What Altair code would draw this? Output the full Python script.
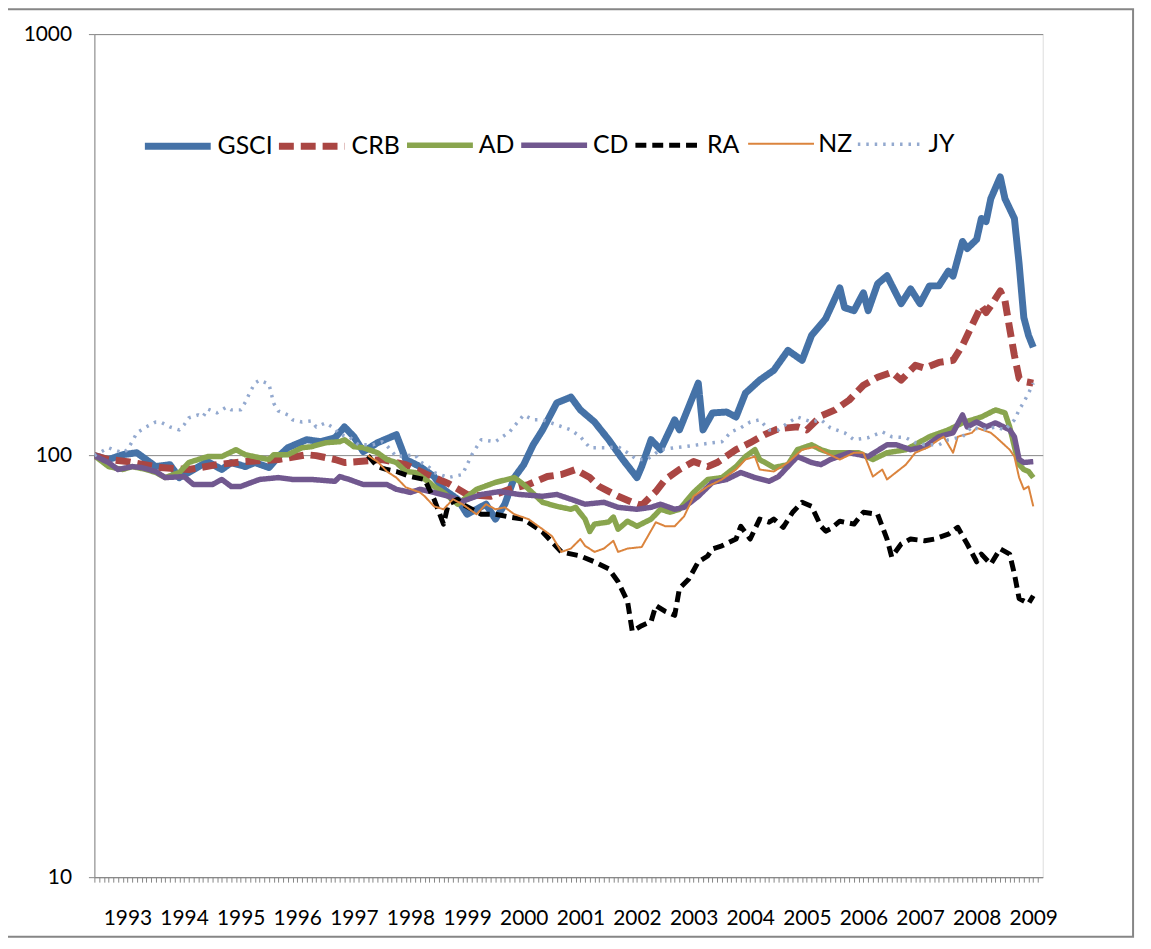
import altair as alt
import pandas as pd

# ---------------- data (index levels, log scale) ----------------
series_names = ["GSCI", "CRB", "AD", "CD", "RA", "NZ", "JY"]
series_colors = ["#4572A7", "#AA4643", "#89A54E", "#71588F", "#000000", "#DB843D", "#93A9CF"]
series_widths = [7, 7, 5.5, 5.5, 5, 2, 3.5]
series_dashes = [[1, 0], [15, 7], [1, 0], [1, 0], [11, 6], [1, 0], [2.5, 6]]
legend_x = [47, 182, 312, 427, 542, 657, 767]

year_labels = list(range(1993, 2010))
y_ticks = [10, 100, 1000]

gsci_dates = ["1992-06", "1992-09", "1992-12", "1993-03", "1993-07", "1993-10", "1993-12", "1994-02",
              "1994-06", "1994-09", "1994-11", "1995-02", "1995-04", "1995-07", "1995-09", "1995-11",
              "1996-03", "1996-06", "1996-09", "1996-11", "1997-01", "1997-03", "1997-06", "1997-10",
              "1997-12", "1998-03", "1998-06", "1998-08", "1998-11", "1999-01", "1999-05", "1999-07",
              "1999-09", "1999-11", "2000-01", "2000-03", "2000-05", "2000-08", "2000-11", "2001-01",
              "2001-04", "2001-07", "2001-10", "2002-01", "2002-02", "2002-04", "2002-06", "2002-09",
              "2002-10", "2003-02", "2003-03", "2003-05", "2003-08", "2003-10", "2003-12", "2004-03",
              "2004-06", "2004-09", "2004-12", "2005-02", "2005-05", "2005-08", "2005-09", "2005-11",
              "2006-01", "2006-02", "2006-04", "2006-06", "2006-09", "2006-11", "2007-01", "2007-03",
              "2007-05", "2007-07", "2007-08", "2007-10", "2007-11", "2008-01", "2008-02", "2008-03",
              "2008-04", "2008-06", "2008-07", "2008-09", "2008-10", "2008-11", "2008-12", "2009-01"]
gsci_vals = [100, 97.9, 100.5, 101.6, 94.2, 95.2, 88.7, 91.2,
             96.8, 92.7, 96.3, 94.2, 96.3, 93.7, 99.5, 104.4,
             109.1, 107.9, 110.3, 117.0, 110.9, 102.2, 107.3, 112.1,
             97.9, 94.2, 89.2, 83.2, 78.8, 72.6, 76.7, 70.7,
             76.7, 88.7, 95.2, 106.1, 115.1, 133.4, 137.7, 128.4,
             120.2, 109.1, 97.9, 88.7, 94.2, 109.1, 103.3, 121.6,
             115.1, 148.6, 115.1, 126.3, 126.9, 123.5, 140.7, 151.0,
             159.4, 177.7, 168.3, 192.8, 211.3, 250.1, 224.4, 220.8,
             243.4, 220.8, 255.6, 267.1, 229.3, 248.7, 229.3, 252.8,
             252.8, 274.0, 266.6, 322.2, 310.0, 325.8, 365.3, 359.2,
             407.0, 458.5, 407.0, 365.3, 285.0, 212.5, 192.8, 180.7]

crb_dates = ["1992-06", "1992-09", "1993-01", "1993-08", "1994-02", "1994-08", "1995-02", "1995-09",
             "1996-03", "1996-05", "1996-09", "1996-11", "1997-02", "1997-07", "1997-12", "1998-05",
             "1998-09", "1999-01", "1999-06", "1999-10", "2000-02", "2000-06", "2000-09", "2000-12",
             "2001-03", "2001-05", "2001-09", "2001-12", "2002-02", "2002-05", "2002-07", "2002-10",
             "2003-01", "2003-04", "2003-06", "2003-10", "2004-01", "2004-04", "2004-07", "2004-11",
             "2005-01", "2005-04", "2005-07", "2005-10", "2006-01", "2006-04", "2006-07", "2006-09",
             "2006-12", "2007-02", "2007-05", "2007-08", "2007-10", "2007-12", "2008-02", "2008-03",
             "2008-04", "2008-06", "2008-07", "2008-08", "2008-09", "2008-10", "2008-11", "2008-12",
             "2009-01"]
crb_vals = [100, 97.9, 96.8, 93.7, 92.7, 95.2, 96.8, 97.9,
            100.5, 100, 97.9, 96.3, 96.8, 97.9, 95.2, 89.7,
            85.9, 80.9, 80.1, 83.2, 85.4, 89.2, 90.2, 92.7,
            88.7, 84.5, 80.1, 77.5, 76.2, 82.2, 87.8, 92.7,
            96.8, 94.2, 96.3, 103.3, 107.3, 112.1, 115.8, 117.0,
            115.1, 124.2, 128.4, 135.5, 146.9, 153.4, 157.7, 151.0,
            163.8, 161.2, 166.4, 168.3, 182.6, 203.6, 226.6, 218.4,
            226.6, 245.8, 233.1, 200.2, 172.9, 152.6, 150.0, 149.3,
            148.6]

ad_dates = ["1992-06", "1992-09", "1992-12", "1993-02", "1993-05", "1993-07", "1993-09", "1993-12",
            "1994-02", "1994-04", "1994-06", "1994-09", "1994-12", "1995-02", "1995-05", "1995-07",
            "1995-08", "1995-11", "1996-02", "1996-04", "1996-07", "1996-10", "1996-11", "1997-01",
            "1997-03", "1997-06", "1997-08", "1997-10", "1997-12", "1998-02", "1998-05", "1998-06",
            "1998-08", "1998-11", "1999-03", "1999-07", "1999-11", "2000-01", "2000-05", "2000-08",
            "2000-11", "2000-12", "2001-02", "2001-03", "2001-04", "2001-07", "2001-08", "2001-09",
            "2001-11", "2002-01", "2002-04", "2002-06", "2002-08", "2002-10", "2003-01", "2003-04",
            "2003-07", "2003-10", "2003-12", "2004-02", "2004-03", "2004-06", "2004-09", "2004-11",
            "2005-02", "2005-04", "2005-06", "2005-09", "2005-12", "2006-03", "2006-06", "2006-10",
            "2007-03", "2007-07", "2007-10", "2008-02", "2008-05", "2008-07", "2008-08", "2008-09",
            "2008-10", "2008-11", "2008-12", "2009-01"]
ad_vals = [100, 94.2, 92.7, 94.2, 92.7, 91.2, 88.7, 91.2,
           96.3, 97.9, 99.5, 99.5, 103.3, 100.5, 98.9, 97.9,
           100.5, 100.5, 104.4, 105.0, 107.3, 107.9, 109.1, 105.0,
           104.4, 101.6, 97.9, 96.3, 91.7, 91.2, 86.4, 84.5,
           81.8, 76.7, 83.2, 86.4, 88.7, 85.4, 77.5, 75.8,
           74.6, 75.4, 70.7, 66.1, 68.8, 69.6, 71.5, 66.9,
           69.9, 68.0, 70.7, 74.6, 73.4, 74.6, 81.8, 87.8,
           88.7, 94.2, 99.5, 103.3, 97.9, 93.7, 95.2, 103.3,
           106.1, 103.3, 101.6, 101.6, 101.6, 97.9, 101.6, 103.3,
           110.9, 115.1, 119.6, 123.5, 128.4, 126.3, 117.0, 105.0,
           95.2, 92.7, 91.7, 88.7]

cd_dates = ["1992-06", "1992-09", "1992-11", "1993-02", "1993-04", "1993-07", "1993-09", "1994-01",
            "1994-03", "1994-07", "1994-09", "1994-11", "1995-01", "1995-05", "1995-09", "1995-12",
            "1996-04", "1996-09", "1996-10", "1996-12", "1997-03", "1997-08", "1997-10", "1998-01",
            "1998-03", "1998-06", "1998-09", "1998-12", "1999-04", "1999-08", "1999-12", "2000-05",
            "2000-08", "2000-11", "2001-02", "2001-06", "2001-09", "2002-01", "2002-04", "2002-06",
            "2002-09", "2002-11", "2003-02", "2003-05", "2003-08", "2003-11", "2004-02", "2004-05",
            "2004-07", "2004-11", "2005-02", "2005-04", "2005-06", "2005-10", "2006-02", "2006-06",
            "2006-08", "2006-11", "2007-02", "2007-05", "2007-08", "2007-10", "2007-11", "2008-01",
            "2008-03", "2008-05", "2008-08", "2008-09", "2008-10", "2008-11", "2009-01"]
cd_vals = [100, 96.3, 92.7, 94.2, 93.7, 91.7, 88.7, 89.2,
           85.4, 85.4, 87.8, 84.5, 84.5, 87.8, 88.7, 87.8,
           87.8, 86.9, 89.2, 87.8, 85.4, 85.4, 83.2, 81.8,
           83.2, 81.8, 80.1, 77.9, 80.9, 82.2, 80.9, 80.1,
           80.9, 78.8, 76.7, 77.5, 75.4, 74.6, 75.4, 76.7,
           74.6, 75.4, 80.1, 86.4, 87.8, 91.2, 88.7, 86.9,
           89.2, 99.5, 96.3, 95.2, 97.9, 101.6, 99.5, 106.1,
           106.1, 103.3, 105.0, 110.9, 113.3, 124.9, 117.0, 120.2,
           117.0, 119.6, 115.1, 110.9, 97.9, 96.3, 96.8]

ra_dates = ["1997-04", "1997-06", "1997-08", "1997-10", "1998-01", "1998-04", "1998-06", "1998-08",
            "1998-09", "1998-11", "1998-12", "1999-04", "1999-07", "1999-10", "2000-01", "2000-05",
            "2000-09", "2001-01", "2001-04", "2001-07", "2001-09", "2001-11", "2001-12", "2002-02",
            "2002-04", "2002-05", "2002-07", "2002-09", "2002-10", "2002-12", "2003-02", "2003-04",
            "2003-05", "2003-07", "2003-10", "2003-11", "2004-01", "2004-03", "2004-05", "2004-06",
            "2004-08", "2004-10", "2004-12", "2005-02", "2005-04", "2005-05", "2005-06", "2005-08",
            "2005-11", "2006-01", "2006-04", "2006-06", "2006-07", "2006-09", "2006-11", "2007-02",
            "2007-04", "2007-07", "2007-09", "2007-11", "2008-01", "2008-02", "2008-04", "2008-06",
            "2008-08", "2008-09", "2008-10", "2008-12", "2009-01"]
ra_vals = [100, 94.2, 92.7, 91.7, 89.2, 87.8, 78.8, 68.8,
           76.7, 78.8, 76.7, 72.6, 72.6, 71.5, 70.7, 65.9,
           59.1, 57.8, 56.0, 53.9, 50.2, 45.1, 38.3, 39.5,
           40.4, 44.1, 42.7, 41.8, 48.4, 51.0, 56.0, 57.8,
           60.1, 61.1, 63.4, 68.0, 63.4, 70.7, 69.5, 70.7,
           67.6, 73.4, 77.5, 75.8, 68.0, 66.2, 67.0, 69.9,
           68.8, 73.4, 72.6, 63.4, 57.5, 61.7, 63.4, 62.8,
           63.4, 65.1, 67.6, 61.7, 56.0, 58.4, 55.3, 60.1,
           58.4, 52.4, 45.8, 44.6, 46.5]

nz_dates = ["1997-04", "1997-06", "1997-08", "1997-10", "1997-12", "1998-03", "1998-04", "1998-06",
            "1998-08", "1998-10", "1998-12", "1999-03", "1999-05", "1999-07", "1999-09", "1999-11",
            "2000-02", "2000-05", "2000-07", "2000-09", "2000-11", "2001-01", "2001-02", "2001-04",
            "2001-06", "2001-08", "2001-09", "2001-11", "2002-02", "2002-05", "2002-07", "2002-09",
            "2002-11", "2003-01", "2003-04", "2003-07", "2003-10", "2003-12", "2004-02", "2004-03",
            "2004-06", "2004-09", "2004-12", "2005-03", "2005-05", "2005-08", "2005-11", "2006-01",
            "2006-03", "2006-05", "2006-06", "2006-10", "2006-12", "2007-03", "2007-04", "2007-06",
            "2007-08", "2007-09", "2007-12", "2008-01", "2008-04", "2008-05", "2008-08", "2008-09",
            "2008-10", "2008-11", "2008-12", "2009-01"]
nz_vals = [100, 96.8, 91.7, 88.7, 84.1, 81.8, 80.1, 75.8,
           74.6, 78.8, 76.7, 72.6, 76.7, 74.6, 75.4, 72.6,
           70.7, 66.9, 64.4, 59.1, 60.2, 63.4, 61.1, 59.1,
           60.2, 62.8, 59.1, 60.2, 60.7, 69.5, 68.0, 68.0,
           71.8, 80.1, 84.5, 87.8, 92.7, 97.9, 99.5, 92.7,
           91.7, 96.3, 103.3, 105.0, 101.6, 97.9, 101.6, 101.6,
           89.2, 92.7, 87.8, 95.2, 101.6, 105.0, 107.3, 110.9,
           101.6, 110.9, 113.3, 116.4, 113.3, 110.9, 103.3, 99.5,
           88.7, 83.2, 84.5, 75.8]

jy_dates = ["1992-06", "1992-09", "1992-10", "1992-12", "1993-01", "1993-02", "1993-03", "1993-05",
            "1993-07", "1993-08", "1993-10", "1993-12", "1994-01", "1994-02", "1994-04", "1994-05",
            "1994-06", "1994-08", "1994-10", "1994-11", "1995-01", "1995-02", "1995-03", "1995-04",
            "1995-05", "1995-07", "1995-08", "1995-09", "1995-11", "1995-12", "1996-02", "1996-04",
            "1996-05", "1996-07", "1996-09", "1996-10", "1996-12", "1997-02", "1997-05", "1997-07",
            "1997-08", "1997-10", "1998-02", "1998-03", "1998-05", "1998-06", "1998-09", "1998-12",
            "1999-02", "1999-04", "1999-07", "1999-10", "2000-01", "2000-03", "2000-05", "2000-08",
            "2000-11", "2001-01", "2001-03", "2001-05", "2001-07", "2001-09", "2001-11", "2002-01",
            "2002-03", "2002-04", "2002-06", "2002-09", "2002-11", "2003-02", "2003-05", "2003-07",
            "2003-09", "2003-11", "2004-01", "2004-03", "2004-05", "2004-07", "2004-09", "2004-11",
            "2005-02", "2005-04", "2005-06", "2005-09", "2005-11", "2006-02", "2006-05", "2006-07",
            "2006-10", "2006-12", "2007-02", "2007-05", "2007-07", "2007-10", "2007-12", "2008-02",
            "2008-05", "2008-07", "2008-09", "2008-10", "2008-11", "2008-12", "2009-01"]
jy_vals = [100, 104.4, 103.3, 101.6, 103.3, 107.9, 113.3, 117.0,
           120.2, 120.2, 117.0, 115.1, 118.3, 122.9, 124.9, 123.5,
           129.0, 126.3, 130.4, 128.4, 128.4, 134.0, 141.5, 148.6,
           151.0, 147.8, 133.2, 127.6, 124.9, 121.6, 120.2, 120.9,
           117.0, 119.6, 115.8, 112.1, 110.9, 106.1, 106.1, 107.9,
           105.6, 99.5, 100.5, 96.8, 93.7, 91.2, 88.7, 90.2,
           100.5, 109.1, 107.9, 113.9, 124.9, 121.6, 121.6, 118.3,
           115.1, 110.9, 104.4, 104.4, 104.4, 105.0, 101.6, 97.9,
           97.9, 99.5, 103.3, 104.4, 105.0, 106.1, 107.3, 107.9,
           113.9, 116.4, 120.2, 121.6, 115.1, 115.1, 119.6, 123.5,
           120.2, 121.6, 116.4, 113.3, 109.1, 110.3, 113.9, 110.9,
           110.3, 107.3, 106.1, 106.1, 109.1, 110.9, 117.0, 115.1,
           117.0, 115.1, 121.6, 128.4, 134.0, 140.7, 148.6]

all_dates = [gsci_dates, crb_dates, ad_dates, cd_dates, ra_dates, nz_dates, jy_dates]
all_vals = [gsci_vals, crb_vals, ad_vals, cd_vals, ra_vals, nz_vals, jy_vals]


def to_year(s):
    y, m = s.split("-")
    return int(y) + (int(m) - 1) / 12.0


rows = []
for name, ds, vs in zip(series_names, all_dates, all_vals):
    for d, v in zip(ds, vs):
        rows.append({"series": name, "t": to_year(d), "value": v})
df = pd.DataFrame(rows)

x_start = 1992 + 5 / 12.0
x_end = 2009 + 2 / 12.0
month_ticks = [x_start + k / 12.0 for k in range(201)]

FONT = "Lato"
GREY = "#868686"

x_enc = alt.X(
    "t:Q",
    scale=alt.Scale(domain=[x_start, x_end], nice=False, zero=False),
    axis=alt.Axis(
        values=month_ticks,
        labelExpr="abs(datum.value - round(datum.value)) < 0.01 ? format(round(datum.value), 'd') : ''",
        tickSize=5, tickColor=GREY, domainColor=GREY, grid=False,
        labelFont=FONT, labelFontSize=21, labelColor="black", labelPadding=26,
        labelOverlap=False, labelFlush=False, labelBound=False, labelAngle=0, title=None,
    ),
)
y_enc = alt.Y(
    "value:Q",
    scale=alt.Scale(type="log", domain=[10, 1000], nice=False),
    axis=alt.Axis(
        values=y_ticks, format="d", tickSize=6, tickColor=GREY, domainColor=GREY,
        grid=True, gridColor=GREY, gridWidth=1,
        labelFont=FONT, labelFontSize=21, labelColor="black", labelPadding=17, title=None,
    ),
)

frame = alt.Chart(pd.DataFrame({"a": [0]})).mark_rect(
    fill="white", fillOpacity=0, stroke=GREY, strokeWidth=2
).encode(x=alt.value(-88), x2=alt.value(1046), y=alt.value(-25), y2=alt.value(909))

layers = [frame]
for name, col, w, dash, lx in zip(series_names, series_colors, series_widths, series_dashes, legend_x):
    layers.append(
        alt.Chart(df)
        .transform_filter(alt.datum.series == name)
        .mark_line(strokeJoin="round", clip=True, strokeWidth=w, strokeDash=dash)
        .encode(
            x=x_enc,
            y=y_enc,
            color=alt.Color(
                "series:N",
                scale=alt.Scale(domain=[name], range=[col]),
                legend=alt.Legend(
                    orient="none", legendX=lx, legendY=76, direction="horizontal", title=None,
                    symbolType="stroke", symbolSize=4400, symbolStrokeWidth=w, symbolDash=dash,
                    labelFont=FONT, labelFontSize=25, labelColor="black", labelOffset=3,
                    padding=0, labelLimit=0,
                ),
            ),
        )
    )

chart = (
    alt.layer(*layers)
    .resolve_scale(color="independent")
    .resolve_legend(color="independent")
    .properties(
        width=955, height=849,
        padding={"left": 87, "top": 23, "right": 101, "bottom": 62},
        autosize=alt.AutoSizeParams(type="none"),
    )
    .configure_view(stroke="transparent")
    .configure(background="white")
)

chart.save("out.html", embed_options={"renderer": "svg", "actions": False})
